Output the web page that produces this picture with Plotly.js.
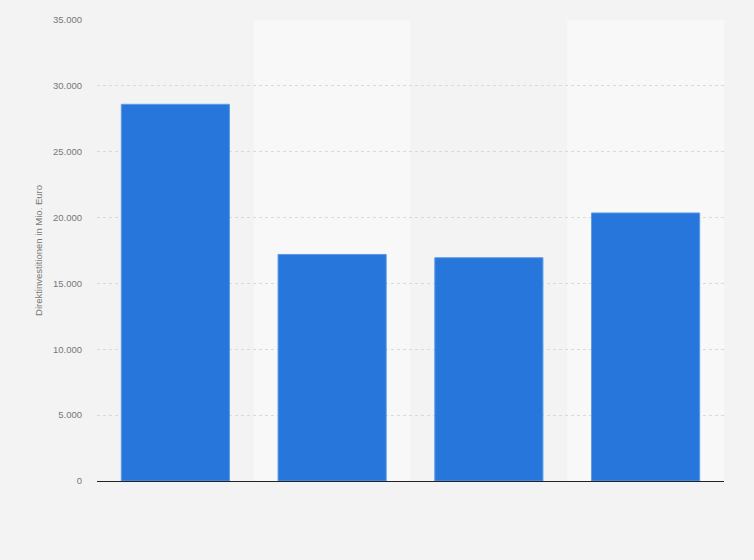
<!DOCTYPE html>
<html>
<head>
<meta charset="utf-8">
<script src="https://cdn.plot.ly/plotly-3.0.1.min.js"></script>
<style>
  html, body { margin: 0; padding: 0; background: #f3f3f3; }
  #chart { width: 754px; height: 560px; }
</style>
</head>
<body>
<div id="chart"></div>
<script>
"use strict";

// x labels are not shown in the reference, so the categories are just placeholders
const categories = ["1", "2", "3", "4"];
const investments = [28600, 17200, 16950, 20350];
const tickValues = [0, 5000, 10000, 15000, 20000, 25000, 30000, 35000];

const barColor = "#2776db";
const pageColor = "#f3f3f3";
const bandColor = "#f8f8f8";

// lighter stripes behind every second category
const bands = [1, 3].map((i) => ({
  type: "rect",
  xref: "x",
  yref: "paper",
  x0: i - 0.5,
  x1: i + 0.5,
  y0: 0,
  y1: 1,
  fillcolor: bandColor,
  line: { width: 0 },
  layer: "below",
}));

const data = [
  {
    x: categories,
    y: investments,
    type: "bar",
    marker: {
      color: barColor,
      line: { color: "#5e9ae6", width: 1 },
    },
    hoverinfo: "y",
  },
];

const layout = {
  width: 754,
  height: 560,
  margin: { l: 97, r: 30, t: 20, b: 79 },
  paper_bgcolor: pageColor,
  plot_bgcolor: pageColor,
  separators: ",.",
  bargap: 0.31,
  showlegend: false,
  shapes: bands,
  font: { family: "Liberation Sans, Arial, sans-serif", color: "#777" },
  xaxis: {
    type: "category",
    showticklabels: false,
    showgrid: false,
    showline: true,
    linecolor: "#222",
    linewidth: 1.3,
    ticks: "",
    range: [-0.5, 3.5],
    fixedrange: true,
  },
  yaxis: {
    range: [0, 35000],
    tickvals: tickValues,
    tickformat: ",d",
    tickfont: { size: 9.5, color: "#777" },
    ticklabelstandoff: 14,
    showgrid: true,
    gridcolor: "#d9d9d9",
    griddash: "dot",
    gridwidth: 1,
    zeroline: false,
    showline: false,
    ticks: "",
    title: {
      text: "Direktinvestitionen in Mio. Euro",
      font: { size: 9.5, color: "#777" },
      standoff: 8,
    },
    fixedrange: true,
  },
};

const config = {
  displayModeBar: false,
  responsive: false,
};

Plotly.newPlot("chart", data, layout, config);
</script>
</body>
</html>
